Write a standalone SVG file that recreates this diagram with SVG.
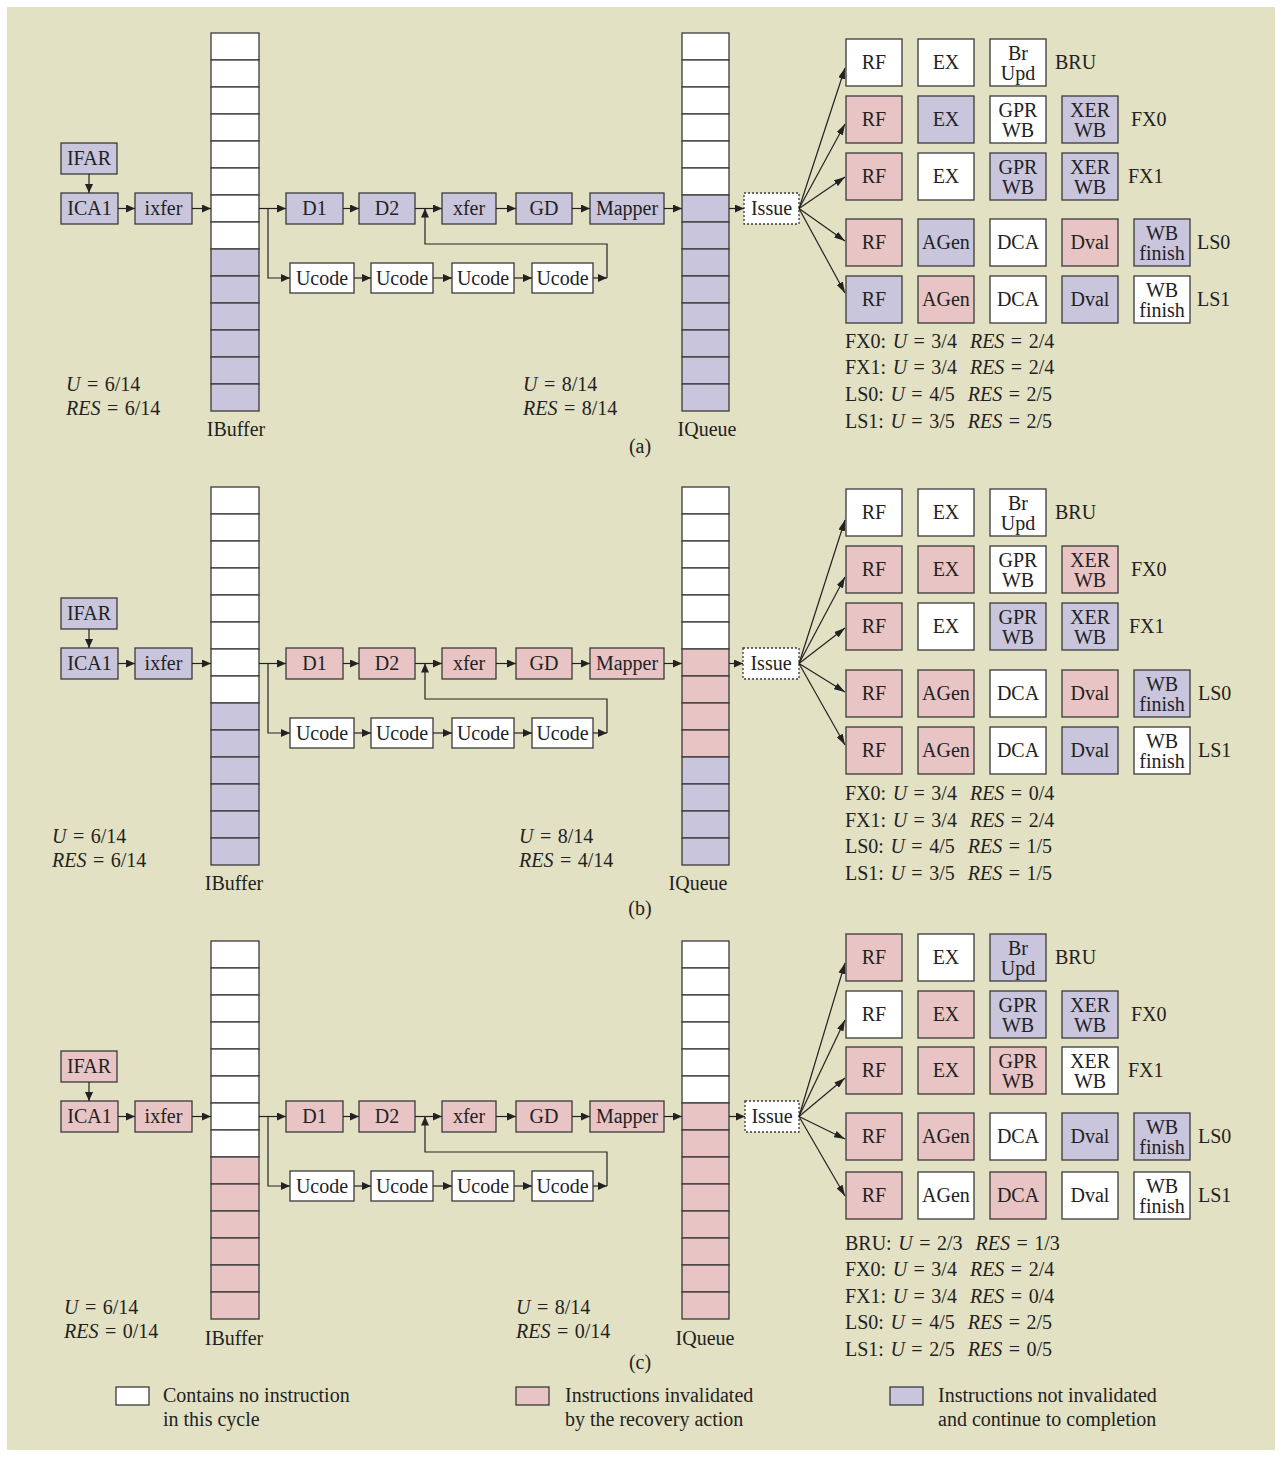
<svg xmlns="http://www.w3.org/2000/svg" width="1282" height="1457" viewBox="0 0 1282 1457">
<style>
.bx{stroke:#3a3a3a;stroke-width:1.3}
.w{fill:#ffffff}
.p{fill:#c9c5dd}
.k{fill:#e8c4c4}
.is{fill:#ffffff;stroke:#3a3a3a;stroke-width:1.3;stroke-dasharray:2 2}
text{font-family:"Liberation Serif","Times New Roman",serif;font-size:20px;fill:#222}
.c{text-anchor:middle}
.i{font-style:italic}
.s{word-spacing:1.5px}
.cn{fill:none;stroke:#222;stroke-width:1.2}
.ar{marker-end:url(#ah)}
.fa{marker-end:url(#fh)}
</style>
<defs>
<marker id="ah" viewBox="0 0 9 8" refX="9" refY="4" markerWidth="9" markerHeight="8" markerUnits="userSpaceOnUse" orient="auto"><path d="M0,0 L9,4 L0,8 z" fill="#222"/></marker>
<marker id="fh" viewBox="0 0 11 7" refX="11" refY="3.5" markerWidth="11" markerHeight="7" markerUnits="userSpaceOnUse" orient="auto"><path d="M0,0 L11,3.5 L0,7 z" fill="#222"/></marker>
</defs>
<rect x="0" y="0" width="1282" height="1457" fill="#ffffff"/>
<rect x="7" y="7" width="1268" height="1443" fill="#e3e1c4"/>

<!-- ================= PANEL A ================= -->
<g id="a-IFAR"><rect class="bx p" x="61" y="143" width="56" height="31"/><text class="c" x="89" y="165">IFAR</text></g>
<g id="a-ICA1"><rect class="bx p" x="61" y="193" width="57" height="31"/><text class="c" x="89.5" y="215">ICA1</text></g>
<g id="a-ixfer"><rect class="bx p" x="135" y="193" width="57" height="31"/><text class="c" x="163.5" y="215">ixfer</text></g>
<g id="a-IBuffer">
<rect class="bx w" x="211" y="33" width="48" height="27"/><rect class="bx w" x="211" y="60" width="48" height="27"/><rect class="bx w" x="211" y="87" width="48" height="27"/><rect class="bx w" x="211" y="114" width="48" height="27"/><rect class="bx w" x="211" y="141" width="48" height="27"/><rect class="bx w" x="211" y="168" width="48" height="27"/><rect class="bx w" x="211" y="195" width="48" height="27"/><rect class="bx w" x="211" y="222" width="48" height="27"/>
<rect class="bx p" x="211" y="249" width="48" height="27"/><rect class="bx p" x="211" y="276" width="48" height="27"/><rect class="bx p" x="211" y="303" width="48" height="27"/><rect class="bx p" x="211" y="330" width="48" height="27"/><rect class="bx p" x="211" y="357" width="48" height="27"/><rect class="bx p" x="211" y="384" width="48" height="27"/>
<text class="c" x="236" y="436">IBuffer</text></g>
<g id="a-D1"><rect class="bx p" x="286" y="193" width="57" height="31"/><text class="c" x="314.5" y="215">D1</text></g>
<g id="a-D2"><rect class="bx p" x="359" y="193" width="56" height="31"/><text class="c" x="387" y="215">D2</text></g>
<g id="a-xfer"><rect class="bx p" x="442" y="193" width="54" height="31"/><text class="c" x="469" y="215">xfer</text></g>
<g id="a-GD"><rect class="bx p" x="516" y="193" width="56" height="31"/><text class="c" x="544" y="215">GD</text></g>
<g id="a-Mapper"><rect class="bx p" x="590" y="193" width="74" height="31"/><text class="c" x="627" y="215">Mapper</text></g>
<g id="a-Ucode1"><rect class="bx w" x="290" y="263" width="64" height="30"/><text class="c" x="322" y="284.5">Ucode</text></g>
<g id="a-Ucode2"><rect class="bx w" x="371" y="263" width="62" height="30"/><text class="c" x="402" y="284.5">Ucode</text></g>
<g id="a-Ucode3"><rect class="bx w" x="452" y="263" width="62" height="30"/><text class="c" x="483" y="284.5">Ucode</text></g>
<g id="a-Ucode4"><rect class="bx w" x="532" y="263" width="61" height="30"/><text class="c" x="562.5" y="284.5">Ucode</text></g>
<g id="a-IQueue">
<rect class="bx w" x="682" y="33" width="47" height="27"/><rect class="bx w" x="682" y="60" width="47" height="27"/><rect class="bx w" x="682" y="87" width="47" height="27"/><rect class="bx w" x="682" y="114" width="47" height="27"/><rect class="bx w" x="682" y="141" width="47" height="27"/><rect class="bx w" x="682" y="168" width="47" height="27"/>
<rect class="bx p" x="682" y="195" width="47" height="27"/><rect class="bx p" x="682" y="222" width="47" height="27"/><rect class="bx p" x="682" y="249" width="47" height="27"/><rect class="bx p" x="682" y="276" width="47" height="27"/><rect class="bx p" x="682" y="303" width="47" height="27"/><rect class="bx p" x="682" y="330" width="47" height="27"/><rect class="bx p" x="682" y="357" width="47" height="27"/><rect class="bx p" x="682" y="384" width="47" height="27"/>
<text class="c" x="707" y="436">IQueue</text></g>
<g id="a-Issue"><rect class="is" x="744" y="193" width="55" height="31"/><text class="c" x="771.5" y="215">Issue</text></g>
<g id="a-BRU">
<rect class="bx w" x="846" y="39" width="56" height="47"/><text class="c" x="874" y="69">RF</text>
<rect class="bx w" x="918" y="39" width="56" height="47"/><text class="c" x="946" y="69">EX</text>
<rect class="bx w" x="990" y="39" width="56" height="47"/><text class="c" x="1018" y="60">Br</text><text class="c" x="1018" y="80">Upd</text>
<text x="1055" y="69">BRU</text></g>
<g id="a-FX0">
<rect class="bx k" x="846" y="96" width="56" height="47"/><text class="c" x="874" y="126">RF</text>
<rect class="bx p" x="918" y="96" width="56" height="47"/><text class="c" x="946" y="126">EX</text>
<rect class="bx w" x="990" y="96" width="56" height="47"/><text class="c" x="1018" y="117">GPR</text><text class="c" x="1018" y="137">WB</text>
<rect class="bx p" x="1062" y="96" width="56" height="47"/><text class="c" x="1090" y="117">XER</text><text class="c" x="1090" y="137">WB</text>
<text x="1131" y="126">FX0</text></g>
<g id="a-FX1">
<rect class="bx k" x="846" y="153" width="56" height="47"/><text class="c" x="874" y="183">RF</text>
<rect class="bx w" x="918" y="153" width="56" height="47"/><text class="c" x="946" y="183">EX</text>
<rect class="bx p" x="990" y="153" width="56" height="47"/><text class="c" x="1018" y="174">GPR</text><text class="c" x="1018" y="194">WB</text>
<rect class="bx p" x="1062" y="153" width="56" height="47"/><text class="c" x="1090" y="174">XER</text><text class="c" x="1090" y="194">WB</text>
<text x="1128" y="183">FX1</text></g>
<g id="a-LS0">
<rect class="bx k" x="846" y="219" width="56" height="47"/><text class="c" x="874" y="249">RF</text>
<rect class="bx p" x="918" y="219" width="56" height="47"/><text class="c" x="946" y="249">AGen</text>
<rect class="bx w" x="990" y="219" width="56" height="47"/><text class="c" x="1018" y="249">DCA</text>
<rect class="bx k" x="1062" y="219" width="56" height="47"/><text class="c" x="1090" y="249">Dval</text>
<rect class="bx p" x="1134" y="219" width="56" height="47"/><text class="c" x="1162" y="240">WB</text><text class="c" x="1162" y="260">finish</text>
<text x="1197" y="249">LS0</text></g>
<g id="a-LS1">
<rect class="bx p" x="846" y="276" width="56" height="47"/><text class="c" x="874" y="306">RF</text>
<rect class="bx k" x="918" y="276" width="56" height="47"/><text class="c" x="946" y="306">AGen</text>
<rect class="bx w" x="990" y="276" width="56" height="47"/><text class="c" x="1018" y="306">DCA</text>
<rect class="bx p" x="1062" y="276" width="56" height="47"/><text class="c" x="1090" y="306">Dval</text>
<rect class="bx w" x="1134" y="276" width="56" height="47"/><text class="c" x="1162" y="297">WB</text><text class="c" x="1162" y="317">finish</text>
<text x="1197" y="306">LS1</text></g>
<g id="a-stats">
<text class="s" x="66" y="391"><tspan class="i">U</tspan> = 6/14</text>
<text class="s" x="66" y="415"><tspan class="i">RES</tspan> = 6/14</text>
<text class="s" x="523" y="391"><tspan class="i">U</tspan> = 8/14</text>
<text class="s" x="523" y="415"><tspan class="i">RES</tspan> = 8/14</text>
<text class="s" x="845" y="348" xml:space="preserve">FX0: <tspan class="i">U</tspan> = 3/4  <tspan class="i">RES</tspan> = 2/4</text>
<text class="s" x="845" y="374" xml:space="preserve">FX1: <tspan class="i">U</tspan> = 3/4  <tspan class="i">RES</tspan> = 2/4</text>
<text class="s" x="845" y="401" xml:space="preserve">LS0: <tspan class="i">U</tspan> = 4/5  <tspan class="i">RES</tspan> = 2/5</text>
<text class="s" x="845" y="428" xml:space="preserve">LS1: <tspan class="i">U</tspan> = 3/5  <tspan class="i">RES</tspan> = 2/5</text>
<text class="c" x="640" y="453">(a)</text>
</g>

<!-- ================= PANEL B ================= -->
<g id="b-IFAR"><rect class="bx p" x="61" y="598" width="56" height="31"/><text class="c" x="89" y="620">IFAR</text></g>
<g id="b-ICA1"><rect class="bx p" x="61" y="648" width="57" height="31"/><text class="c" x="89.5" y="670">ICA1</text></g>
<g id="b-ixfer"><rect class="bx p" x="135" y="648" width="57" height="31"/><text class="c" x="163.5" y="670">ixfer</text></g>
<g id="b-IBuffer">
<rect class="bx w" x="211" y="487" width="48" height="27"/><rect class="bx w" x="211" y="514" width="48" height="27"/><rect class="bx w" x="211" y="541" width="48" height="27"/><rect class="bx w" x="211" y="568" width="48" height="27"/><rect class="bx w" x="211" y="595" width="48" height="27"/><rect class="bx w" x="211" y="622" width="48" height="27"/><rect class="bx w" x="211" y="649" width="48" height="27"/><rect class="bx w" x="211" y="676" width="48" height="27"/>
<rect class="bx p" x="211" y="703" width="48" height="27"/><rect class="bx p" x="211" y="730" width="48" height="27"/><rect class="bx p" x="211" y="757" width="48" height="27"/><rect class="bx p" x="211" y="784" width="48" height="27"/><rect class="bx p" x="211" y="811" width="48" height="27"/><rect class="bx p" x="211" y="838" width="48" height="27"/>
<text class="c" x="234" y="890">IBuffer</text></g>
<g id="b-D1"><rect class="bx k" x="286" y="648" width="57" height="31"/><text class="c" x="314.5" y="670">D1</text></g>
<g id="b-D2"><rect class="bx k" x="359" y="648" width="56" height="31"/><text class="c" x="387" y="670">D2</text></g>
<g id="b-xfer"><rect class="bx k" x="442" y="648" width="54" height="31"/><text class="c" x="469" y="670">xfer</text></g>
<g id="b-GD"><rect class="bx k" x="516" y="648" width="56" height="31"/><text class="c" x="544" y="670">GD</text></g>
<g id="b-Mapper"><rect class="bx k" x="590" y="648" width="74" height="31"/><text class="c" x="627" y="670">Mapper</text></g>
<g id="b-Ucode1"><rect class="bx w" x="290" y="718" width="64" height="30"/><text class="c" x="322" y="739.5">Ucode</text></g>
<g id="b-Ucode2"><rect class="bx w" x="371" y="718" width="62" height="30"/><text class="c" x="402" y="739.5">Ucode</text></g>
<g id="b-Ucode3"><rect class="bx w" x="452" y="718" width="62" height="30"/><text class="c" x="483" y="739.5">Ucode</text></g>
<g id="b-Ucode4"><rect class="bx w" x="532" y="718" width="61" height="30"/><text class="c" x="562.5" y="739.5">Ucode</text></g>
<g id="b-IQueue">
<rect class="bx w" x="682" y="487" width="47" height="27"/><rect class="bx w" x="682" y="514" width="47" height="27"/><rect class="bx w" x="682" y="541" width="47" height="27"/><rect class="bx w" x="682" y="568" width="47" height="27"/><rect class="bx w" x="682" y="595" width="47" height="27"/><rect class="bx w" x="682" y="622" width="47" height="27"/>
<rect class="bx k" x="682" y="649" width="47" height="27"/><rect class="bx k" x="682" y="676" width="47" height="27"/><rect class="bx k" x="682" y="703" width="47" height="27"/><rect class="bx k" x="682" y="730" width="47" height="27"/>
<rect class="bx p" x="682" y="757" width="47" height="27"/><rect class="bx p" x="682" y="784" width="47" height="27"/><rect class="bx p" x="682" y="811" width="47" height="27"/><rect class="bx p" x="682" y="838" width="47" height="27"/>
<text class="c" x="698" y="890">IQueue</text></g>
<g id="b-Issue"><rect class="is" x="743" y="648" width="56" height="31"/><text class="c" x="771" y="670">Issue</text></g>
<g id="b-BRU">
<rect class="bx w" x="846" y="489" width="56" height="47"/><text class="c" x="874" y="519">RF</text>
<rect class="bx w" x="918" y="489" width="56" height="47"/><text class="c" x="946" y="519">EX</text>
<rect class="bx w" x="990" y="489" width="56" height="47"/><text class="c" x="1018" y="510">Br</text><text class="c" x="1018" y="530">Upd</text>
<text x="1055" y="519">BRU</text></g>
<g id="b-FX0">
<rect class="bx k" x="846" y="546" width="56" height="47"/><text class="c" x="874" y="576">RF</text>
<rect class="bx k" x="918" y="546" width="56" height="47"/><text class="c" x="946" y="576">EX</text>
<rect class="bx w" x="990" y="546" width="56" height="47"/><text class="c" x="1018" y="567">GPR</text><text class="c" x="1018" y="587">WB</text>
<rect class="bx k" x="1062" y="546" width="56" height="47"/><text class="c" x="1090" y="567">XER</text><text class="c" x="1090" y="587">WB</text>
<text x="1131" y="576">FX0</text></g>
<g id="b-FX1">
<rect class="bx k" x="846" y="603" width="56" height="47"/><text class="c" x="874" y="633">RF</text>
<rect class="bx w" x="918" y="603" width="56" height="47"/><text class="c" x="946" y="633">EX</text>
<rect class="bx p" x="990" y="603" width="56" height="47"/><text class="c" x="1018" y="624">GPR</text><text class="c" x="1018" y="644">WB</text>
<rect class="bx p" x="1062" y="603" width="56" height="47"/><text class="c" x="1090" y="624">XER</text><text class="c" x="1090" y="644">WB</text>
<text x="1129" y="633">FX1</text></g>
<g id="b-LS0">
<rect class="bx k" x="846" y="670" width="56" height="47"/><text class="c" x="874" y="700">RF</text>
<rect class="bx k" x="918" y="670" width="56" height="47"/><text class="c" x="946" y="700">AGen</text>
<rect class="bx w" x="990" y="670" width="56" height="47"/><text class="c" x="1018" y="700">DCA</text>
<rect class="bx k" x="1062" y="670" width="56" height="47"/><text class="c" x="1090" y="700">Dval</text>
<rect class="bx p" x="1134" y="670" width="56" height="47"/><text class="c" x="1162" y="691">WB</text><text class="c" x="1162" y="711">finish</text>
<text x="1198" y="700">LS0</text></g>
<g id="b-LS1">
<rect class="bx k" x="846" y="727" width="56" height="47"/><text class="c" x="874" y="757">RF</text>
<rect class="bx k" x="918" y="727" width="56" height="47"/><text class="c" x="946" y="757">AGen</text>
<rect class="bx w" x="990" y="727" width="56" height="47"/><text class="c" x="1018" y="757">DCA</text>
<rect class="bx p" x="1062" y="727" width="56" height="47"/><text class="c" x="1090" y="757">Dval</text>
<rect class="bx w" x="1134" y="727" width="56" height="47"/><text class="c" x="1162" y="748">WB</text><text class="c" x="1162" y="768">finish</text>
<text x="1198" y="757">LS1</text></g>
<g id="b-stats">
<text class="s" x="52" y="843"><tspan class="i">U</tspan> = 6/14</text>
<text class="s" x="52" y="867"><tspan class="i">RES</tspan> = 6/14</text>
<text class="s" x="519" y="843"><tspan class="i">U</tspan> = 8/14</text>
<text class="s" x="519" y="867"><tspan class="i">RES</tspan> = 4/14</text>
<text class="s" x="845" y="800" xml:space="preserve">FX0: <tspan class="i">U</tspan> = 3/4  <tspan class="i">RES</tspan> = 0/4</text>
<text class="s" x="845" y="827" xml:space="preserve">FX1: <tspan class="i">U</tspan> = 3/4  <tspan class="i">RES</tspan> = 2/4</text>
<text class="s" x="845" y="853" xml:space="preserve">LS0: <tspan class="i">U</tspan> = 4/5  <tspan class="i">RES</tspan> = 1/5</text>
<text class="s" x="845" y="880" xml:space="preserve">LS1: <tspan class="i">U</tspan> = 3/5  <tspan class="i">RES</tspan> = 1/5</text>
<text class="c" x="640" y="915">(b)</text>
</g>

<!-- ================= PANEL C ================= -->
<g id="c-IFAR"><rect class="bx k" x="61" y="1051" width="56" height="31"/><text class="c" x="89" y="1073">IFAR</text></g>
<g id="c-ICA1"><rect class="bx k" x="61" y="1101" width="57" height="31"/><text class="c" x="89.5" y="1123">ICA1</text></g>
<g id="c-ixfer"><rect class="bx k" x="135" y="1101" width="57" height="31"/><text class="c" x="163.5" y="1123">ixfer</text></g>
<g id="c-IBuffer">
<rect class="bx w" x="211" y="941" width="48" height="27"/><rect class="bx w" x="211" y="968" width="48" height="27"/><rect class="bx w" x="211" y="995" width="48" height="27"/><rect class="bx w" x="211" y="1022" width="48" height="27"/><rect class="bx w" x="211" y="1049" width="48" height="27"/><rect class="bx w" x="211" y="1076" width="48" height="27"/><rect class="bx w" x="211" y="1103" width="48" height="27"/><rect class="bx w" x="211" y="1130" width="48" height="27"/>
<rect class="bx k" x="211" y="1157" width="48" height="27"/><rect class="bx k" x="211" y="1184" width="48" height="27"/><rect class="bx k" x="211" y="1211" width="48" height="27"/><rect class="bx k" x="211" y="1238" width="48" height="27"/><rect class="bx k" x="211" y="1265" width="48" height="27"/><rect class="bx k" x="211" y="1292" width="48" height="27"/>
<text class="c" x="234" y="1345">IBuffer</text></g>
<g id="c-D1"><rect class="bx k" x="286" y="1101" width="57" height="31"/><text class="c" x="314.5" y="1123">D1</text></g>
<g id="c-D2"><rect class="bx k" x="359" y="1101" width="56" height="31"/><text class="c" x="387" y="1123">D2</text></g>
<g id="c-xfer"><rect class="bx k" x="442" y="1101" width="54" height="31"/><text class="c" x="469" y="1123">xfer</text></g>
<g id="c-GD"><rect class="bx k" x="516" y="1101" width="56" height="31"/><text class="c" x="544" y="1123">GD</text></g>
<g id="c-Mapper"><rect class="bx k" x="590" y="1101" width="74" height="31"/><text class="c" x="627" y="1123">Mapper</text></g>
<g id="c-Ucode1"><rect class="bx w" x="290" y="1171" width="64" height="30"/><text class="c" x="322" y="1192.5">Ucode</text></g>
<g id="c-Ucode2"><rect class="bx w" x="371" y="1171" width="62" height="30"/><text class="c" x="402" y="1192.5">Ucode</text></g>
<g id="c-Ucode3"><rect class="bx w" x="452" y="1171" width="62" height="30"/><text class="c" x="483" y="1192.5">Ucode</text></g>
<g id="c-Ucode4"><rect class="bx w" x="532" y="1171" width="61" height="30"/><text class="c" x="562.5" y="1192.5">Ucode</text></g>
<g id="c-IQueue">
<rect class="bx w" x="682" y="941" width="47" height="27"/><rect class="bx w" x="682" y="968" width="47" height="27"/><rect class="bx w" x="682" y="995" width="47" height="27"/><rect class="bx w" x="682" y="1022" width="47" height="27"/><rect class="bx w" x="682" y="1049" width="47" height="27"/><rect class="bx w" x="682" y="1076" width="47" height="27"/>
<rect class="bx k" x="682" y="1103" width="47" height="27"/><rect class="bx k" x="682" y="1130" width="47" height="27"/><rect class="bx k" x="682" y="1157" width="47" height="27"/><rect class="bx k" x="682" y="1184" width="47" height="27"/><rect class="bx k" x="682" y="1211" width="47" height="27"/><rect class="bx k" x="682" y="1238" width="47" height="27"/><rect class="bx k" x="682" y="1265" width="47" height="27"/><rect class="bx k" x="682" y="1292" width="47" height="27"/>
<text class="c" x="705" y="1345">IQueue</text></g>
<g id="c-Issue"><rect class="is" x="745" y="1101" width="54" height="31"/><text class="c" x="772" y="1123">Issue</text></g>
<g id="c-BRU">
<rect class="bx k" x="846" y="934" width="56" height="47"/><text class="c" x="874" y="964">RF</text>
<rect class="bx w" x="918" y="934" width="56" height="47"/><text class="c" x="946" y="964">EX</text>
<rect class="bx p" x="990" y="934" width="56" height="47"/><text class="c" x="1018" y="955">Br</text><text class="c" x="1018" y="975">Upd</text>
<text x="1055" y="964">BRU</text></g>
<g id="c-FX0">
<rect class="bx w" x="846" y="991" width="56" height="47"/><text class="c" x="874" y="1021">RF</text>
<rect class="bx k" x="918" y="991" width="56" height="47"/><text class="c" x="946" y="1021">EX</text>
<rect class="bx p" x="990" y="991" width="56" height="47"/><text class="c" x="1018" y="1012">GPR</text><text class="c" x="1018" y="1032">WB</text>
<rect class="bx p" x="1062" y="991" width="56" height="47"/><text class="c" x="1090" y="1012">XER</text><text class="c" x="1090" y="1032">WB</text>
<text x="1131" y="1021">FX0</text></g>
<g id="c-FX1">
<rect class="bx k" x="846" y="1047" width="56" height="47"/><text class="c" x="874" y="1077">RF</text>
<rect class="bx k" x="918" y="1047" width="56" height="47"/><text class="c" x="946" y="1077">EX</text>
<rect class="bx k" x="990" y="1047" width="56" height="47"/><text class="c" x="1018" y="1068">GPR</text><text class="c" x="1018" y="1088">WB</text>
<rect class="bx w" x="1062" y="1047" width="56" height="47"/><text class="c" x="1090" y="1068">XER</text><text class="c" x="1090" y="1088">WB</text>
<text x="1128" y="1077">FX1</text></g>
<g id="c-LS0">
<rect class="bx k" x="846" y="1113" width="56" height="47"/><text class="c" x="874" y="1143">RF</text>
<rect class="bx k" x="918" y="1113" width="56" height="47"/><text class="c" x="946" y="1143">AGen</text>
<rect class="bx w" x="990" y="1113" width="56" height="47"/><text class="c" x="1018" y="1143">DCA</text>
<rect class="bx p" x="1062" y="1113" width="56" height="47"/><text class="c" x="1090" y="1143">Dval</text>
<rect class="bx p" x="1134" y="1113" width="56" height="47"/><text class="c" x="1162" y="1134">WB</text><text class="c" x="1162" y="1154">finish</text>
<text x="1198" y="1143">LS0</text></g>
<g id="c-LS1">
<rect class="bx k" x="846" y="1172" width="56" height="47"/><text class="c" x="874" y="1202">RF</text>
<rect class="bx w" x="918" y="1172" width="56" height="47"/><text class="c" x="946" y="1202">AGen</text>
<rect class="bx k" x="990" y="1172" width="56" height="47"/><text class="c" x="1018" y="1202">DCA</text>
<rect class="bx w" x="1062" y="1172" width="56" height="47"/><text class="c" x="1090" y="1202">Dval</text>
<rect class="bx w" x="1134" y="1172" width="56" height="47"/><text class="c" x="1162" y="1193">WB</text><text class="c" x="1162" y="1213">finish</text>
<text x="1198" y="1202">LS1</text></g>
<g id="c-stats">
<text class="s" x="64" y="1314"><tspan class="i">U</tspan> = 6/14</text>
<text class="s" x="64" y="1338"><tspan class="i">RES</tspan> = 0/14</text>
<text class="s" x="516" y="1314"><tspan class="i">U</tspan> = 8/14</text>
<text class="s" x="516" y="1338"><tspan class="i">RES</tspan> = 0/14</text>
<text class="s" x="845" y="1250" xml:space="preserve">BRU: <tspan class="i">U</tspan> = 2/3  <tspan class="i">RES</tspan> = 1/3</text>
<text class="s" x="845" y="1276" xml:space="preserve">FX0: <tspan class="i">U</tspan> = 3/4  <tspan class="i">RES</tspan> = 2/4</text>
<text class="s" x="845" y="1303" xml:space="preserve">FX1: <tspan class="i">U</tspan> = 3/4  <tspan class="i">RES</tspan> = 0/4</text>
<text class="s" x="845" y="1329" xml:space="preserve">LS0: <tspan class="i">U</tspan> = 4/5  <tspan class="i">RES</tspan> = 2/5</text>
<text class="s" x="845" y="1356" xml:space="preserve">LS1: <tspan class="i">U</tspan> = 2/5  <tspan class="i">RES</tspan> = 0/5</text>
<text class="c" x="640" y="1369">(c)</text>
</g>

<!-- ================= LEGEND ================= -->
<g id="legend">
<rect class="bx w" x="116" y="1387" width="33" height="18"/>
<text x="163" y="1402">Contains no instruction</text><text x="163" y="1426">in this cycle</text>
<rect class="bx k" x="516" y="1387" width="33" height="18"/>
<text x="565" y="1402">Instructions invalidated</text><text x="565" y="1426">by the recovery action</text>
<rect class="bx p" x="890" y="1387" width="33" height="18"/>
<text x="938" y="1402">Instructions not invalidated</text><text x="938" y="1426">and continue to completion</text>
</g>

<!-- ================= CONNECTORS ================= -->
<g id="connectors" class="cn">
<!-- panel a -->
<path class="ar" d="M89,174 V193"/>
<path class="ar" d="M118,208.5 H135"/>
<path class="ar" d="M192,208.5 H211"/>
<path class="ar" d="M259,208.5 H286"/>
<path class="ar" d="M268,208.5 V278 H290"/>
<path class="ar" d="M343,208.5 H359"/>
<path class="ar" d="M415,208.5 H442"/>
<path class="ar" d="M496,208.5 H516"/>
<path class="ar" d="M572,208.5 H590"/>
<path class="ar" d="M664,208.5 H682"/>
<path class="ar" d="M729,208.5 H744"/>
<path class="ar" d="M354,278 H371"/>
<path class="ar" d="M433,278 H452"/>
<path class="ar" d="M514,278 H532"/>
<path class="ar" d="M593,278 H607"/>
<path class="ar" d="M607,278 V244 H425 V208.5"/>
<path class="fa" d="M799,208.5 L845,68"/>
<path class="fa" d="M799,208.5 L845,124"/>
<path class="fa" d="M799,208.5 L845,177"/>
<path class="fa" d="M799,208.5 L845,241"/>
<path class="fa" d="M799,208.5 L845,293"/>
<!-- panel b -->
<path class="ar" d="M89,629 V648"/>
<path class="ar" d="M118,663.5 H135"/>
<path class="ar" d="M192,663.5 H211"/>
<path class="ar" d="M259,663.5 H286"/>
<path class="ar" d="M268,663.5 V733 H290"/>
<path class="ar" d="M343,663.5 H359"/>
<path class="ar" d="M415,663.5 H442"/>
<path class="ar" d="M496,663.5 H516"/>
<path class="ar" d="M572,663.5 H590"/>
<path class="ar" d="M664,663.5 H682"/>
<path class="ar" d="M729,663.5 H743"/>
<path class="ar" d="M354,733 H371"/>
<path class="ar" d="M433,733 H452"/>
<path class="ar" d="M514,733 H532"/>
<path class="ar" d="M593,733 H607"/>
<path class="ar" d="M607,733 V699 H425 V663.5"/>
<path class="fa" d="M799,663.5 L845,520"/>
<path class="fa" d="M799,663.5 L845,577"/>
<path class="fa" d="M799,663.5 L845,628"/>
<path class="fa" d="M799,663.5 L845,692"/>
<path class="fa" d="M799,663.5 L845,745"/>
<!-- panel c -->
<path class="ar" d="M89,1082 V1101"/>
<path class="ar" d="M118,1116.5 H135"/>
<path class="ar" d="M192,1116.5 H211"/>
<path class="ar" d="M259,1116.5 H286"/>
<path class="ar" d="M268,1116.5 V1186 H290"/>
<path class="ar" d="M343,1116.5 H359"/>
<path class="ar" d="M415,1116.5 H442"/>
<path class="ar" d="M496,1116.5 H516"/>
<path class="ar" d="M572,1116.5 H590"/>
<path class="ar" d="M664,1116.5 H682"/>
<path class="ar" d="M729,1116.5 H745"/>
<path class="ar" d="M354,1186 H371"/>
<path class="ar" d="M433,1186 H452"/>
<path class="ar" d="M514,1186 H532"/>
<path class="ar" d="M593,1186 H607"/>
<path class="ar" d="M607,1186 V1152 H425 V1116.5"/>
<path class="fa" d="M799,1116.5 L845,963"/>
<path class="fa" d="M799,1116.5 L845,1020"/>
<path class="fa" d="M799,1116.5 L845,1078"/>
<path class="fa" d="M799,1116.5 L845,1139"/>
<path class="fa" d="M799,1116.5 L845,1196"/>
</g>
</svg>
